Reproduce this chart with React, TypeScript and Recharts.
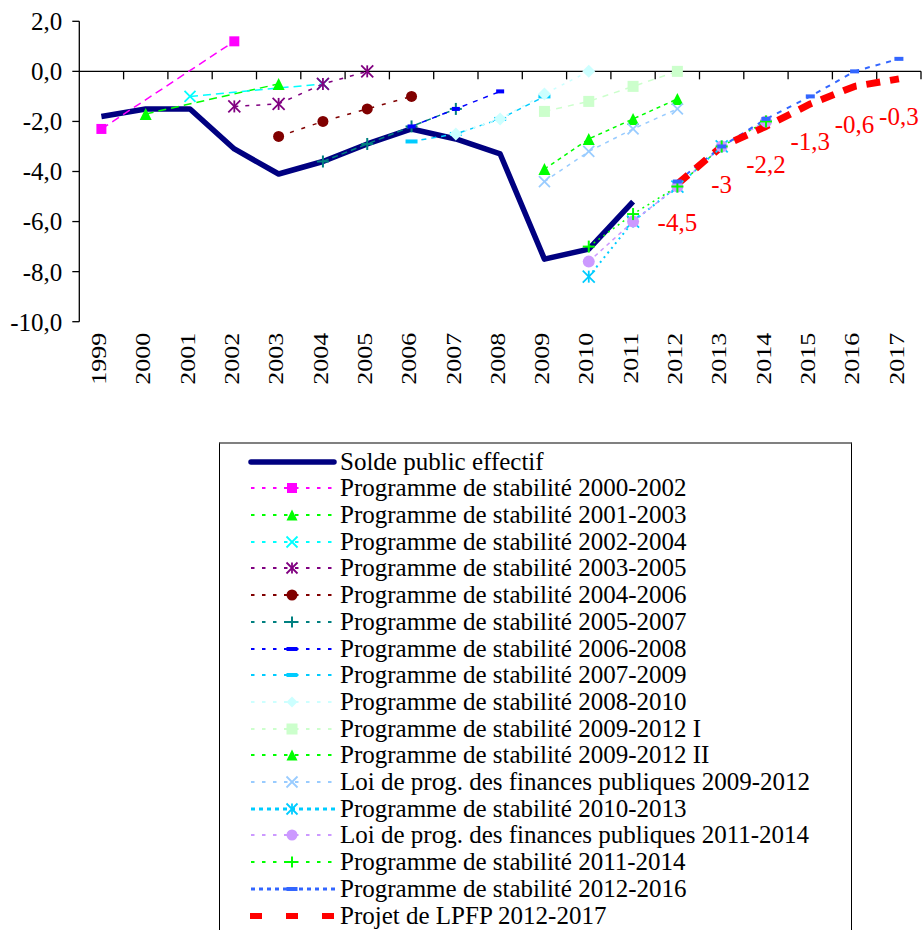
import React from "react";
import { LabelList, Line, LineChart, ReferenceLine, XAxis, YAxis } from "recharts";

const years = ["1999", "2000", "2001", "2002", "2003", "2004", "2005", "2006", "2007", "2008", "2009", "2010", "2011", "2012", "2013", "2014", "2015", "2016", "2017"];
const yTicks = [2, 0, -2, -4, -6, -8, -10];

const _ = null;
// one value per year, 1999 -> 2017
const soldeEffectif = [-1.8, -1.5, -1.5, -3.1, -4.1, -3.6, -2.9, -2.3, -2.7, -3.3, -7.5, -7.1, -5.2, _, _, _, _, _, _];
const ps2000 = [-2.3, _, _, 1.2, _, _, _, _, _, _, _, _, _, _, _, _, _, _, _];
const ps2001 = [_, -1.7, _, _, -0.5, _, _, _, _, _, _, _, _, _, _, _, _, _, _];
const ps2002 = [_, _, -1.0, _, _, -0.5, _, _, _, _, _, _, _, _, _, _, _, _, _];
const ps2003 = [_, _, _, -1.4, -1.3, -0.5, 0.0, _, _, _, _, _, _, _, _, _, _, _, _];
const ps2004 = [_, _, _, _, -2.6, -2.0, -1.5, -1.0, _, _, _, _, _, _, _, _, _, _, _];
const ps2005 = [_, _, _, _, _, -3.6, -2.9, -2.2, -1.5, _, _, _, _, _, _, _, _, _, _];
const ps2006 = [_, _, _, _, _, _, _, -2.2, -1.5, -0.8, _, _, _, _, _, _, _, _, _];
const ps2007 = [_, _, _, _, _, _, _, -2.8, -2.5, -1.9, -1.0, _, _, _, _, _, _, _, _];
const ps2008 = [_, _, _, _, _, _, _, _, -2.5, -1.9, -0.9, 0.0, _, _, _, _, _, _, _];
const ps2009a = [_, _, _, _, _, _, _, _, _, _, -1.6, -1.2, -0.6, 0.0, _, _, _, _, _];
const ps2009b = [_, _, _, _, _, _, _, _, _, _, -3.9, -2.7, -1.9, -1.1, _, _, _, _, _];
const lpfp2009 = [_, _, _, _, _, _, _, _, _, _, -4.4, -3.2, -2.3, -1.5, _, _, _, _, _];
const ps2010 = [_, _, _, _, _, _, _, _, _, _, _, -8.2, -6.0, -4.6, -3.0, _, _, _, _];
const lpfp2011 = [_, _, _, _, _, _, _, _, _, _, _, -7.6, -6.0, -4.6, -3.0, -2.0, _, _, _];
const ps2011 = [_, _, _, _, _, _, _, _, _, _, _, -7.0, -5.7, -4.6, -3.0, -2.0, _, _, _];
const ps2012 = [_, _, _, _, _, _, _, _, _, _, _, _, _, -4.4, -3.0, -1.9, -1.0, 0.0, 0.5];
const projetLpfp = [_, _, _, _, _, _, _, _, _, _, _, _, _, -4.5, -3, -2.2, -1.3, -0.6, -0.3];

type Marker = "none" | "square" | "triangle" | "cross" | "star" | "circle" | "plus" | "dash" | "diamond";

interface Serie {
  key: string;
  name: string;
  values: (number | null)[];
  color: string;
  width: number;
  dash?: string;
  legendDash?: string;
  marker: Marker;
  size: number;
}

const series: Serie[] = [
  { key: "solde", name: "Solde public effectif", values: soldeEffectif, color: "#000080", width: 5.5, marker: "none", size: 0 },
  { key: "ps2000", name: "Programme de stabilité 2000-2002", values: ps2000, color: "#FF00FF", width: 1.5, dash: "8 5", marker: "square", size: 10 },
  { key: "ps2001", name: "Programme de stabilité 2001-2003", values: ps2001, color: "#00FF00", width: 1.5, dash: "8 5", marker: "triangle", size: 12 },
  { key: "ps2002", name: "Programme de stabilité 2002-2004", values: ps2002, color: "#00FFFF", width: 1.5, dash: "8 5", marker: "cross", size: 11 },
  { key: "ps2003", name: "Programme de stabilité 2003-2005", values: ps2003, color: "#800080", width: 1.5, dash: "4 7", marker: "star", size: 12 },
  { key: "ps2004", name: "Programme de stabilité 2004-2006", values: ps2004, color: "#800000", width: 1.5, dash: "4 8", marker: "circle", size: 11 },
  { key: "ps2005", name: "Programme de stabilité 2005-2007", values: ps2005, color: "#008080", width: 1.5, dash: "6 4", marker: "plus", size: 12 },
  { key: "ps2006", name: "Programme de stabilité 2006-2008", values: ps2006, color: "#0000FF", width: 1.5, dash: "5 6", marker: "dash", size: 8 },
  { key: "ps2007", name: "Programme de stabilité 2007-2009", values: ps2007, color: "#00CCFF", width: 1.5, dash: "5 5", marker: "dash", size: 12 },
  { key: "ps2008", name: "Programme de stabilité 2008-2010", values: ps2008, color: "#CCFFFF", width: 1.5, dash: "3 6", marker: "diamond", size: 13 },
  { key: "ps2009a", name: "Programme de stabilité 2009-2012 I", values: ps2009a, color: "#CCFFCC", width: 1.5, dash: "6 6", marker: "square", size: 11 },
  { key: "ps2009b", name: "Programme de stabilité 2009-2012 II", values: ps2009b, color: "#00FF00", width: 1.5, dash: "4 4", marker: "triangle", size: 12 },
  { key: "lpfp2009", name: "Loi de prog. des finances publiques 2009-2012", values: lpfp2009, color: "#99CCFF", width: 1.5, dash: "4 5", marker: "cross", size: 11 },
  { key: "ps2010", name: "Programme de stabilité 2010-2013", values: ps2010, color: "#00CCFF", width: 2, dash: "2 4", legendDash: "4 4", marker: "star", size: 12 },
  { key: "lpfp2011", name: "Loi de prog. des finances publiques 2011-2014", values: lpfp2011, color: "#CC99FF", width: 1.5, dash: "4 4", marker: "circle", size: 12 },
  { key: "ps2011", name: "Programme de stabilité 2011-2014", values: ps2011, color: "#00FF00", width: 1.5, dash: "2 4", marker: "plus", size: 12 },
  { key: "ps2012", name: "Programme de stabilité 2012-2016", values: ps2012, color: "#3366FF", width: 2, dash: "5 6", legendDash: "4 4", marker: "dash", size: 9 },
  { key: "projet", name: "Projet de LPFP 2012-2017", values: projetLpfp, color: "#FF0000", width: 7, dash: "14 10", legendDash: "12 24", marker: "none", size: 0 },
];

const data = years.map((year, i) => {
  const row: Record<string, string | number | null> = { year };
  series.forEach((s) => (row[s.key] = s.values[i]));
  return row;
});

const FONT = "Liberation Serif, DejaVu Serif, serif";
const fmt = (v: number) => String(v).replace(".", ",");

function marker(kind: Marker, cx: number, cy: number, color: string, size: number) {
  const h = size / 2;
  switch (kind) {
    case "square":
      return <rect x={cx - h} y={cy - h} width={size} height={size} fill={color} />;
    case "triangle":
      return <polygon points={`${cx},${cy - h} ${cx + h},${cy + h} ${cx - h},${cy + h}`} fill={color} />;
    case "diamond":
      return <polygon points={`${cx},${cy - h} ${cx + h},${cy} ${cx},${cy + h} ${cx - h},${cy}`} fill={color} />;
    case "circle":
      return <circle cx={cx} cy={cy} r={h} fill={color} />;
    case "dash":
      return <rect x={cx - h} y={cy - 2} width={size} height={4} fill={color} />;
    case "cross":
      return (
        <g stroke={color} strokeWidth={1.8}>
          <line x1={cx - h} y1={cy - h} x2={cx + h} y2={cy + h} />
          <line x1={cx - h} y1={cy + h} x2={cx + h} y2={cy - h} />
        </g>
      );
    case "star":
      return (
        <g stroke={color} strokeWidth={1.8}>
          <line x1={cx - h} y1={cy - h} x2={cx + h} y2={cy + h} />
          <line x1={cx - h} y1={cy + h} x2={cx + h} y2={cy - h} />
          <line x1={cx} y1={cy - h} x2={cx} y2={cy + h} />
        </g>
      );
    case "plus":
      return (
        <g stroke={color} strokeWidth={2}>
          <line x1={cx - h} y1={cy} x2={cx + h} y2={cy} />
          <line x1={cx} y1={cy - h} x2={cx} y2={cy + h} />
        </g>
      );
    default:
      return null;
  }
}

function YearTick(props: any) {
  const { x, y, payload } = props;
  return (
    <text
      transform={`translate(${x},${y}) rotate(-90) scale(1,0.78)`}
      textAnchor="end"
      dy={6}
      fontSize={26}
      fontFamily={FONT}
      fill="#000"
    >
      {payload.value}
    </text>
  );
}

// zero line with the category boundary ticks hanging below it
function ZeroAxis(props: any) {
  const { x1, y1, x2 } = props;
  const step = (x2 - x1) / years.length;
  return (
    <g stroke="#000" strokeWidth={1.3}>
      <line x1={x1} y1={y1} x2={x2} y2={y1} />
      {years.map((yr, i) => (
        <line key={yr} x1={x1 + (i + 1) * step} y1={y1} x2={x1 + (i + 1) * step} y2={y1 + 8} />
      ))}
    </g>
  );
}

function RedLabel(props: any) {
  const { x, y, value, index } = props;
  if (value == null || x == null || y == null) return null;
  return (
    <text key={`lbl-${index}`} x={x} y={y + 38} textAnchor="middle" dominantBaseline="central" fill="#FF0000" fontSize={25} fontFamily={FONT}>
      {fmt(value)}
    </text>
  );
}

function LegendSample({ s }: { s: Serie }) {
  const isSolid = !s.dash;
  return (
    <svg width={90} height={24} style={{ display: "block" }}>
      {isSolid ? (
        <line x1={3} y1={12} x2={86} y2={12} stroke={s.color} strokeWidth={5.5} strokeLinecap="round" />
      ) : s.key === "projet" ? (
        <line x1={2} y1={12} x2={90} y2={12} stroke={s.color} strokeWidth={6} strokeDasharray={s.legendDash} />
      ) : (
        <line x1={3} y1={12} x2={88} y2={12} stroke={s.color} strokeWidth={s.width === 2 ? 3 : 2} strokeDasharray={s.legendDash ?? "3.5 7.5"} />
      )}
      {marker(s.marker, 44, 12, s.color, s.marker === "dash" ? 11 : Math.min(s.size, 11))}
    </svg>
  );
}

export default function App() {
  return (
    <div style={{ position: "absolute", left: 0, top: 0, width: 923, height: 930, overflow: "hidden", background: "#fff" }}>
      <LineChart width={923} height={440} data={data} margin={{ top: 21.3, right: 2, bottom: 0, left: 0 }}>
        <XAxis
          dataKey="year"
          interval={0}
          padding={{ left: 22.1, right: 22.1 }}
          axisLine={false}
          tickLine={false}
          tickSize={0}
          tickMargin={11}
          height={118.3}
          tick={<YearTick />}
        />
        <YAxis
          type="number"
          domain={[-10, 2]}
          ticks={yTicks}
          interval={0}
          width={79.3}
          tickSize={7}
          tickMargin={10}
          axisLine={{ stroke: "#000", strokeWidth: 1.3 }}
          tickLine={{ stroke: "#000", strokeWidth: 1.3 }}
          tick={{ fontSize: 25, fontFamily: FONT, fill: "#000" }}
          tickFormatter={(v: number) => v.toFixed(1).replace(".", ",")}
        />
        <ReferenceLine y={0} shape={<ZeroAxis />} />
        {series.map((s) => (
          <Line
            key={s.key}
            dataKey={s.key}
            name={s.name}
            type="linear"
            stroke={s.color}
            strokeWidth={s.width}
            strokeDasharray={s.dash}
            strokeLinejoin="round"
            connectNulls
            isAnimationActive={false}
            activeDot={false}
            dot={
              s.marker === "none"
                ? false
                : (p: any) => (
                    <g key={`${s.key}-${p.index}`}>
                      {p.value == null || p.cy == null ? null : marker(s.marker, p.cx, p.cy, s.color, s.size)}
                    </g>
                  )
            }
          >
            {s.key === "projet" && <LabelList dataKey={s.key} content={<RedLabel />} />}
          </Line>
        ))}
      </LineChart>

      <div
        style={{
          position: "absolute",
          left: 219,
          top: 442.3,
          width: 633,
          height: 520,
          borderTop: "2px solid #808080",
          borderLeft: "1.5px solid #000",
          borderRight: "1.5px solid #000",
          boxSizing: "border-box",
        }}
      >
        {series.map((s, i) => (
          <div
            key={s.key}
            style={{
              position: "absolute",
              left: 28,
              top: 17.4 + i * 26.7 - 14,
              height: 28,
              display: "flex",
              alignItems: "center",
              whiteSpace: "nowrap",
            }}
          >
            <LegendSample s={s} />
            <span style={{ fontFamily: FONT, fontSize: 25, lineHeight: "28px", color: "#000", marginLeft: 2 }}>{s.name}</span>
          </div>
        ))}
      </div>
    </div>
  );
}
